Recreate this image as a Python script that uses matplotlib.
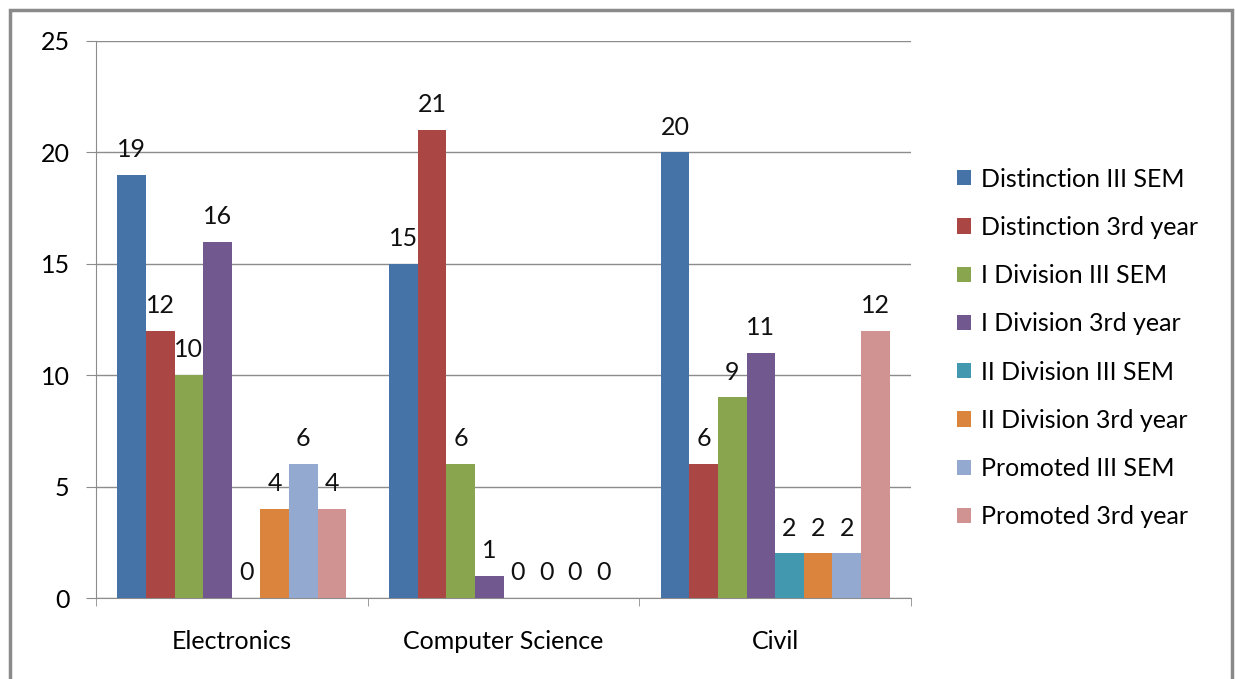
import matplotlib.pyplot as plt
import numpy as np
from matplotlib.patches import Rectangle

# data
departments = ['Electronics', 'Computer Science', 'Civil']
series_names = ['Distinction III SEM', 'Distinction 3rd year', 'I Division III SEM',
                'I Division 3rd year', 'II Division III SEM', 'II Division 3rd year',
                'Promoted III SEM', 'Promoted 3rd year']
dist_sem = [19, 15, 20]
dist_year = [12, 21, 6]
div1_sem = [10, 6, 9]
div1_year = [16, 1, 11]
div2_sem = [0, 0, 2]
div2_year = [4, 0, 2]
prom_sem = [6, 0, 2]
prom_year = [4, 0, 12]
all_series = [dist_sem, dist_year, div1_sem, div1_year, div2_sem, div2_year, prom_sem, prom_year]

colors = ['#4572A7', '#AA4643', '#89A54E', '#71588F',
          '#4198AF', '#DB843D', '#93A9CF', '#D19392']

plt.rcParams['font.family'] = ['Lato', 'DejaVu Sans']
fs = 18

fig = plt.figure(figsize=(12.35, 6.79), dpi=100)
ax = fig.add_axes([96/1235, 1-598/679, (911-96)/1235, (598-41)/679])

n = len(all_series)
w = 1/(n+1.5)
x = np.arange(len(departments))
for i, vals in enumerate(all_series):
    pos = x - n*w/2 + (i+0.5)*w
    bars = ax.bar(pos, vals, w, color=colors[i], label=series_names[i], zorder=3)
    ax.bar_label(bars, padding=10, fontsize=fs, color='#111111')

ax.set_xlim(-0.5, 2.5)
ax.set_ylim(0, 25)
ax.set_yticks([0, 5, 10, 15, 20, 25])
ax.yaxis.grid(True, color='#8c8c8c', linewidth=1)
ax.set_axisbelow(True)
for s in ['top', 'right']:
    ax.spines[s].set_visible(False)
ax.spines['left'].set_color('#8c8c8c')
ax.spines['bottom'].set_color('#8c8c8c')
ax.tick_params(axis='y', length=7, color='#8c8c8c', labelsize=fs, pad=12)

ax.set_xticks(x)
ax.set_xticklabels(departments)
ax.set_xticks([-0.5, 0.5, 1.5, 2.5], minor=True)
ax.tick_params(axis='x', which='major', length=0, labelsize=fs, pad=23)
ax.tick_params(axis='x', which='minor', length=6, color='#8c8c8c')

fig.legend(loc='center left', bbox_to_anchor=(957/1235, 1-348/679), frameon=False,
           fontsize=fs, labelspacing=1.01, handlelength=0.56, handleheight=0.56,
           handletextpad=0.4, borderpad=0, borderaxespad=0)

fig.patches.append(Rectangle((10/1235, -0.05), 1222/1235, 1.05-10/679,
                             transform=fig.transFigure, fill=False,
                             edgecolor='#8a8a8a', linewidth=2.5))

fig.savefig('out.png', dpi=100)
